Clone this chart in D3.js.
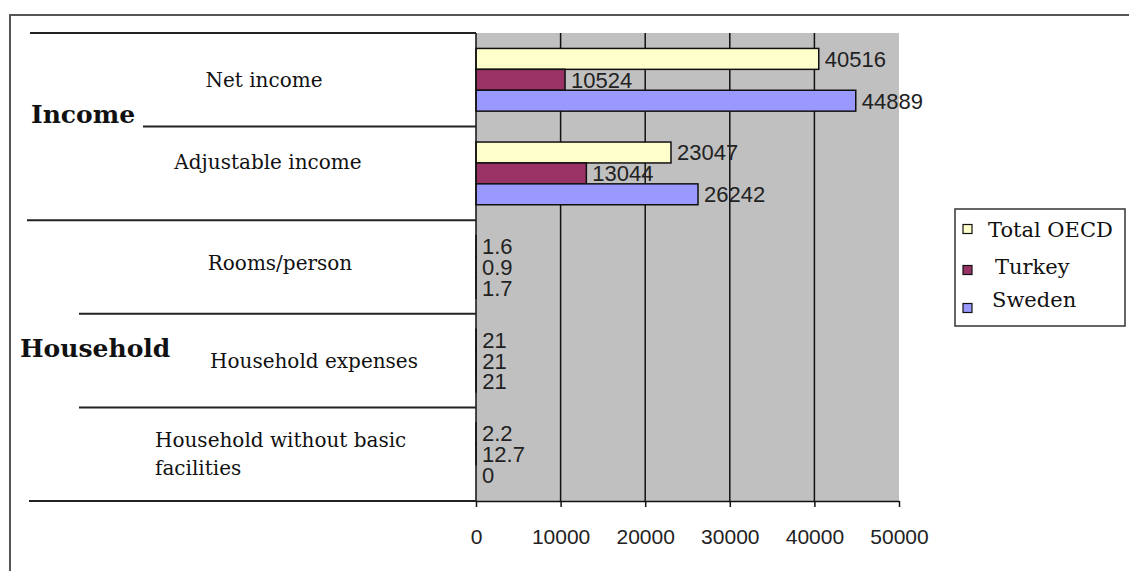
<!DOCTYPE html>
<html>
<head>
<meta charset="utf-8">
<script src="https://cdn.jsdelivr.net/npm/d3@7"></script>
<style>
  body { margin: 0; background: #fff; }
  svg { display: block; }
</style>
</head>
<body>
<div class="canvas"></div>
<script>
// chart values
const categories = ["Net income", "Adjustable income", "Rooms/person", "Household expenses", "Household without basic facilities"]
const seriesNames = ["Total OECD", "Turkey", "Sweden"]
const totalOecd = [40516, 23047, 1.6, 21, 2.2]
const turkey = [10524, 13044, 0.9, 21, 12.7]
const sweden = [44889, 26242, 1.7, 21, 0]
const xTicks = [0, 10000, 20000, 30000, 40000, 50000]
const groupNames = ["Income", "Household"]

// styles / layout
const colors = ["#ffffcc", "#993366", "#9999ff"]
const plot = { left: 476, right: 899, top: 33, bottom: 501 }
const labelX = [264, 268, 280, 314, 155]
const labelDy = [0, -11, -4, 0, 0]
const lineStartX = [30, 143, 27, 79, 79, 29]

const svg = d3.select(".canvas").append("svg")
    .attr("width", 1129)
    .attr("height", 571)

// outer frame (top + left only)
svg.append("path")
    .attr("d", "M10,571 L10,15 L1129,15")
    .attr("fill", "none")
    .attr("stroke", "#555")
    .attr("stroke-width", 2)

const x = d3.scaleLinear().domain([0, 50000]).range([plot.left, plot.right])
const y0 = d3.scaleBand().domain(categories).range([plot.top, plot.bottom])
    .paddingInner(0.33).paddingOuter(0.165)
const y1 = d3.scaleBand().domain(seriesNames).range([0, y0.bandwidth()])

// plot background
svg.append("rect")
    .attr("x", plot.left)
    .attr("y", plot.top)
    .attr("width", plot.right - plot.left)
    .attr("height", plot.bottom - plot.top)
    .attr("fill", "#c0c0c0")

// vertical gridlines
svg.append("g").selectAll("line")
    .data(xTicks.slice(1, -1))
    .join("line")
    .attr("x1", d => x(d)).attr("x2", d => x(d))
    .attr("y1", plot.top).attr("y2", plot.bottom)
    .attr("stroke", "#111")
    .attr("stroke-width", 1.5)

// bars
const seriesValues = [totalOecd, turkey, sweden]
const rows = []
categories.forEach((c, i) => {
  seriesNames.forEach((s, j) => rows.push({ cat: c, series: s, value: seriesValues[j][i], color: colors[j] }))
})

svg.append("g").selectAll("rect")
    .data(rows)
    .join("rect")
    .attr("x", x(0))
    .attr("y", d => y0(d.cat) + y1(d.series))
    .attr("width", d => x(d.value) - x(0))
    .attr("height", y1.bandwidth())
    .attr("fill", d => d.color)
    .attr("stroke", d => d.value > 0 ? "#111" : "none")
    .attr("stroke-width", 1.5)

// value labels
svg.append("g").selectAll("text")
    .data(rows)
    .join("text")
    .attr("x", d => x(d.value) + 6)
    .attr("y", d => y0(d.cat) + y1(d.series) + y1.bandwidth() / 2)
    .attr("dy", "0.36em")
    .attr("fill", "#222")
    .style("font-family", "Liberation Sans, Arial, sans-serif")
    .style("font-size", "22px")
    .text(d => d.value)

// left axis line
svg.append("line")
    .attr("x1", plot.left).attr("x2", plot.left)
    .attr("y1", plot.top).attr("y2", plot.bottom)
    .attr("stroke", "#111")
    .attr("stroke-width", 1.5)

// bottom axis
const xAxis = svg.append("g")
    .attr("transform", `translate(0,${plot.bottom})`)
    .call(d3.axisBottom(x).tickValues(xTicks).tickFormat(d3.format("d")).tickSize(6).tickPadding(22).tickSizeOuter(0))
xAxis.select(".domain").attr("stroke", "#111").attr("stroke-width", 1.5)
xAxis.selectAll(".tick line").attr("stroke", "#111").attr("stroke-width", 1.5)
xAxis.selectAll(".tick text")
    .attr("fill", "#222")
    .style("font-family", "Liberation Sans, Arial, sans-serif")
    .style("font-size", "21px")

// category separator lines on the left
const bounds = d3.range(categories.length + 1).map(i => plot.top + i * y0.step())
svg.append("g").selectAll("line")
    .data(bounds)
    .join("line")
    .attr("x1", (d, i) => lineStartX[i])
    .attr("x2", plot.left)
    .attr("y1", d => d).attr("y2", d => d)
    .attr("stroke", "#222")
    .attr("stroke-width", 2)

// category labels
function wrap(label) {
  const words = label.split(" "), lines = [""]
  words.forEach(w => {
    const cur = lines[lines.length - 1]
    if ((cur + " " + w).trim().length > 24) lines.push(w)
    else lines[lines.length - 1] = (cur + " " + w).trim()
  })
  return lines
}

categories.forEach((c, i) => {
  const lines = wrap(c)
  const cy = y0(c) + y0.bandwidth() / 2 + labelDy[i]
  const t = svg.append("text")
      .attr("x", labelX[i])
      .attr("y", cy - (lines.length - 1) * 14)
      .attr("text-anchor", lines.length > 1 ? "start" : "middle")
      .attr("fill", "#111")
      .style("font-family", "DejaVu Serif, serif")
      .style("font-size", "20px")
  lines.forEach((l, k) => {
    t.append("tspan")
        .attr("x", labelX[i])
        .attr("dy", k === 0 ? "0.35em" : "28px")
        .text(l)
  })
})

// group labels
const groupY = [y0.step() * 1, y0.step() * 3.5]
const groupX = [31, 20]
groupNames.forEach((g, i) => {
  svg.append("text")
      .attr("x", groupX[i])
      .attr("y", plot.top + groupY[i] - 12)
      .attr("dy", "0.35em")
      .attr("fill", "#111")
      .style("font-family", "DejaVu Serif, serif")
      .style("font-weight", "bold")
      .style("font-size", "25px")
      .text(g)
})

// legend
const legend = svg.append("g")
legend.append("rect")
    .attr("x", 955).attr("y", 209)
    .attr("width", 170).attr("height", 117)
    .attr("fill", "#fff")
    .attr("stroke", "#333")
    .attr("stroke-width", 1.5)

const legendSquareY = [229, 270, 308]
const legendTextY = [230, 267, 300]
const legendTextX = [988, 995, 992]
seriesNames.forEach((s, i) => {
  legend.append("rect")
      .attr("x", 963).attr("y", legendSquareY[i] - 4.5)
      .attr("width", 9).attr("height", 9)
      .attr("fill", colors[i])
      .attr("stroke", "#111")
      .attr("stroke-width", 1.2)
  legend.append("text")
      .attr("x", legendTextX[i])
      .attr("y", legendTextY[i])
      .attr("dy", "0.35em")
      .attr("fill", "#111")
      .style("font-family", "DejaVu Serif, serif")
      .style("font-size", "21px")
      .text(s)
})
</script>
</body>
</html>
